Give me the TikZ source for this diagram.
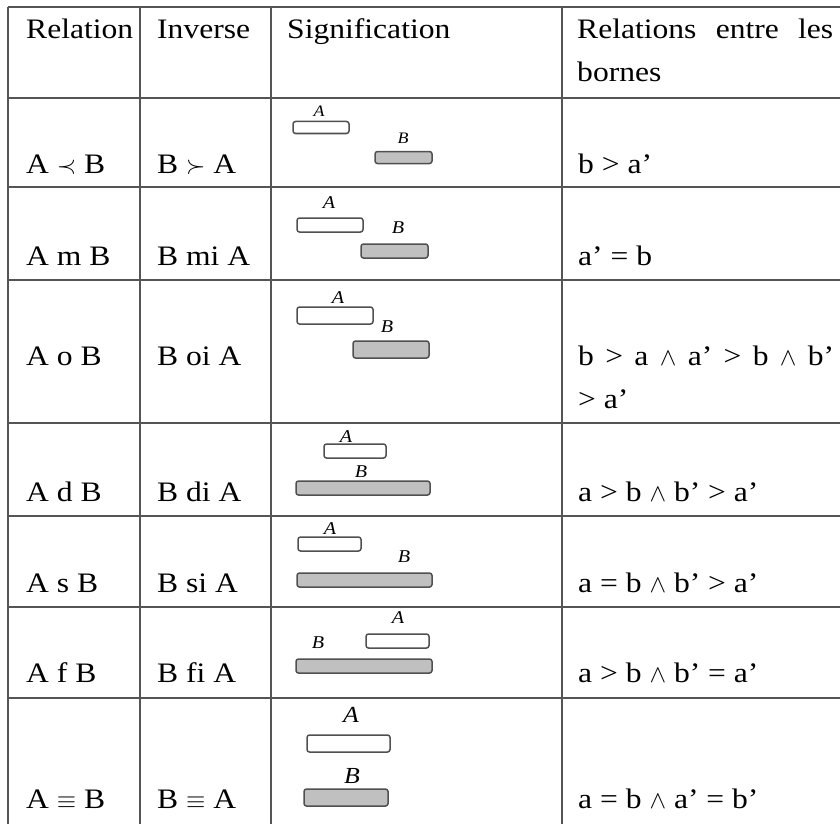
\documentclass[tikz,border=0pt]{standalone}
\usepackage{fontspec}
\setmainfont{Liberation Serif}[FakeStretch=1.12]
\newcommand{\myprec}{$\prec$}
\newcommand{\mysucc}{$\succ$}
\newcommand{\myand}{$\wedge$}
\newcommand{\myeq}{$\equiv$}
\definecolor{gridc}{RGB}{85,85,85}
\definecolor{barc}{RGB}{80,80,80}
\definecolor{barfill}{RGB}{192,192,192}
\tikzset{
  txt/.style={anchor=base west, inner sep=0pt, font=\fontsize{28.2}{43}\selectfont},
  lbl/.style={anchor=base, inner sep=0pt, font=\itshape\fontsize{#1}{#1}\selectfont},
  gridline/.style={draw=gridc, line width=1.4pt},
  barA/.style={draw=barc, line width=1.5pt, fill=white, rounded corners=2.5pt},
  barB/.style={draw=barc, line width=1.5pt, fill=barfill, rounded corners=2.5pt}
}
\begin{document}
\begin{tikzpicture}[x=1pt,y=-1pt]
\useasboundingbox (0,0) rectangle (840,824);
\fill[white] (0,0) rectangle (840,824);
% grid
\foreach \yy in {7,98,187,280,423,516,607,698} {\draw[gridline] (8,\yy) -- (840,\yy);}
\foreach \xx in {8,140,271,562} {\draw[gridline] (\xx,7) -- (\xx,824);}
% header
\node[txt] (h1) at (26,39) {Relation};
\node[txt] (h2) at (157,39) {Inverse};
\node[txt] (h3) at (287,39) {Signification};
\node[txt] (h4) at (577,39) {\makebox[256pt][s]{Relations entre les}};
\node[txt] (h4b) at (577,82) {bornes};
% row 2
\node[txt] (r1a) at (26,173) {A \myprec{} B};
\node[txt] (r1b) at (157,173) {B \mysucc{} A};
\node[txt] (r1c) at (578,173) {b > a’};
\draw[barA] (293,121.5) rectangle (349,133.5);
\draw[barB] (375,151.5) rectangle (432,163.5);
\node[lbl=16] (r1A) at (319,117) {A};
\node[lbl=16] (r1B) at (403,143) {B};
% row 3
\node[txt] (r2a) at (26,265) {A m B};
\node[txt] (r2b) at (157,265) {B mi A};
\node[txt] (r2c) at (578,265) {a’ = b};
\draw[barA] (297,218) rectangle (363,232);
\draw[barB] (361,244) rectangle (428,258);
\node[lbl=18] (r2A) at (329,208) {A};
\node[lbl=18] (r2B) at (398,233) {B};
% row 4
\node[txt] (r3a) at (26,365) {A o B};
\node[txt] (r3b) at (157,365) {B oi A};
\node[txt] (r3c) at (578,365) {\makebox[256pt][s]{b > a \myand{} a’ > b \myand{} b’}};
\node[txt] (r3d) at (578,408) {> a’};
\draw[barA] (297,307) rectangle (373,324);
\draw[barB] (353,341) rectangle (429,358);
\node[lbl=18] (r3A) at (338,303) {A};
\node[lbl=18] (r3B) at (387,332) {B};
% row 5
\node[txt] (r4a) at (26,501) {A d B};
\node[txt] (r4b) at (157,501) {B di A};
\node[txt] (r4c) at (578,501) {a > b \myand{} b’ > a’};
\draw[barA] (324,444) rectangle (386,458);
\draw[barB] (296,481) rectangle (430,495);
\node[lbl=18] (r4A) at (346,442) {A};
\node[lbl=18] (r4B) at (361,477) {B};
% row 6
\node[txt] (r5a) at (26,592) {A s B};
\node[txt] (r5b) at (157,592) {B si A};
\node[txt] (r5c) at (578,592) {a = b \myand{} b’ > a’};
\draw[barA] (298,537) rectangle (361,551);
\draw[barB] (297,573) rectangle (432,587);
\node[lbl=18] (r5A) at (330,534) {A};
\node[lbl=18] (r5B) at (404,562) {B};
% row 7
\node[txt] (r6a) at (26,682) {A f B};
\node[txt] (r6b) at (157,682) {B fi A};
\node[txt] (r6c) at (578,682) {a > b \myand{} b’ = a’};
\draw[barA] (366,634) rectangle (429,648);
\draw[barB] (296,659) rectangle (432,673);
\node[lbl=18] (r6A) at (398,623) {A};
\node[lbl=18] (r6B) at (318,648) {B};
% row 8
\node[txt] (r7a) at (26,808) {A \myeq{} B};
\node[txt] (r7b) at (157,808) {B \myeq{} A};
\node[txt] (r7c) at (578,808) {a = b \myand{} a’ = b’};
\draw[barA] (307,735) rectangle (390,752);
\draw[barB] (304,789) rectangle (388,806);
\node[lbl=23] (r7A) at (351,722) {A};
\node[lbl=23] (r7B) at (352,783) {B};
\end{tikzpicture}
\end{document}
